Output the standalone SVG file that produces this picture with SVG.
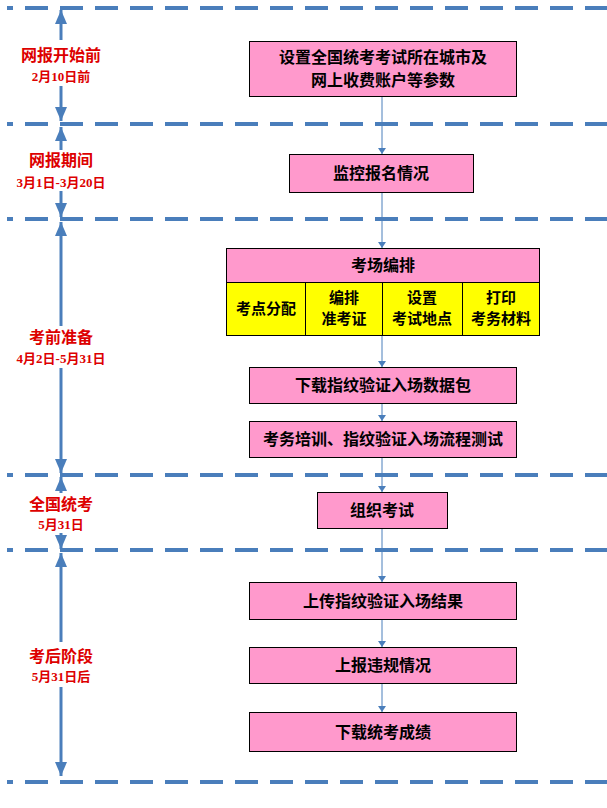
<svg xmlns="http://www.w3.org/2000/svg" width="607" height="808" viewBox="0 0 607 808">
<defs>
<style>
.dash{stroke:#4a7ebb;stroke-width:4;stroke-dasharray:23 12;stroke-dashoffset:17;fill:none}
.tl{stroke:#4a7ebb;stroke-width:3;fill:none}
.box{fill:#ff99cc;stroke:#000;stroke-width:1}
.cell{fill:#ffff00;stroke:#000;stroke-width:1}
.bt{font-family:"Noto Sans CJK SC","Liberation Sans",sans-serif;font-size:16px;font-weight:bold;fill:#000;text-anchor:middle}
.ct{font-size:15px}
.rt{font-family:"Liberation Serif","Noto Sans CJK SC",serif;font-weight:bold;fill:#dd0000;text-anchor:middle}
.r1{font-size:16px}
.r2{font-size:13px}
.con{stroke:#4a7ebb;stroke-width:1;fill:none;marker-end:url(#sa)}
</style>
<marker id="sa" viewBox="0 0 6 8" refX="6" refY="4" markerWidth="6" markerHeight="8" markerUnits="userSpaceOnUse" orient="auto">
<path d="M0,0L6,4L0,8z" fill="#4a7ebb"/>
</marker>
<marker id="ba" viewBox="0 0 14 12" refX="14" refY="6" markerWidth="14" markerHeight="12" markerUnits="userSpaceOnUse" orient="auto">
<path d="M0,0L14,6L0,12z" fill="#4a7ebb"/>
</marker>
</defs>
<rect width="607" height="808" fill="#fff"/>
<g id="separators">
<line class="dash" x1="7" y1="8" x2="607" y2="8"/>
<line class="dash" x1="7" y1="124" x2="607" y2="124"/>
<line class="dash" x1="7" y1="219" x2="607" y2="219"/>
<line class="dash" x1="7" y1="475" x2="607" y2="475"/>
<line class="dash" x1="7" y1="550" x2="607" y2="550"/>
<line class="dash" x1="7" y1="782" x2="607" y2="782"/>
</g>
<g id="timeline">
<line class="tl" x1="61" y1="40" x2="61" y2="10" marker-end="url(#ba)"/>
<line class="tl" x1="61" y1="86" x2="61" y2="121" marker-end="url(#ba)"/>
<line class="tl" x1="61" y1="150" x2="61" y2="127" marker-end="url(#ba)"/>
<line class="tl" x1="61" y1="191" x2="61" y2="217" marker-end="url(#ba)"/>
<line class="tl" x1="61" y1="326" x2="61" y2="222" marker-end="url(#ba)"/>
<line class="tl" x1="61" y1="368" x2="61" y2="473" marker-end="url(#ba)"/>
<line class="tl" x1="61" y1="493" x2="61" y2="477" marker-end="url(#ba)"/>
<line class="tl" x1="61" y1="533" x2="61" y2="549" marker-end="url(#ba)"/>
<line class="tl" x1="61" y1="642" x2="61" y2="553" marker-end="url(#ba)"/>
<line class="tl" x1="61" y1="687" x2="61" y2="776" marker-end="url(#ba)"/>
</g>
<g id="phases">
<text class="rt r1" x="61" y="61">网报开始前</text>
<text class="rt r2" x="61" y="81">2月10日前</text>
<text class="rt r1" x="61" y="166">网报期间</text>
<text class="rt r2" x="61" y="187">3月1日-3月20日</text>
<text class="rt r1" x="61" y="343">考前准备</text>
<text class="rt r2" x="61" y="363">4月2日-5月31日</text>
<text class="rt r1" x="61" y="510">全国统考</text>
<text class="rt r2" x="61" y="529">5月31日</text>
<text class="rt r1" x="61" y="662">考后阶段</text>
<text class="rt r2" x="61" y="681">5月31日后</text>
</g>
<g id="connectors">
<line class="con" x1="382" y1="96" x2="382" y2="154"/>
<line class="con" x1="382" y1="192" x2="382" y2="248"/>
<line class="con" x1="382" y1="335" x2="382" y2="367"/>
<line class="con" x1="382" y1="403" x2="382" y2="421"/>
<line class="con" x1="382" y1="457" x2="382" y2="492"/>
<line class="con" x1="382" y1="528" x2="382" y2="582"/>
<line class="con" x1="382" y1="619" x2="382" y2="647"/>
<line class="con" x1="382" y1="683" x2="382" y2="712"/>
</g>
<g id="n1">
<rect class="box" x="249.5" y="41.5" width="267" height="55"/>
<text class="bt" x="383" y="63">设置全国统考考试所在城市及</text>
<text class="bt" x="383" y="86">网上收费账户等参数</text>
</g>
<g id="n2">
<rect class="box" x="289.5" y="154.5" width="184" height="38"/>
<text class="bt" x="381" y="179">监控报名情况</text>
</g>
<g id="n3">
<rect class="box" x="226.5" y="248.5" width="313" height="34"/>
<text class="bt" x="383" y="271">考场编排</text>
<rect class="cell" x="226.5" y="282.5" width="79" height="53"/>
<rect class="cell" x="305.5" y="282.5" width="77" height="53"/>
<rect class="cell" x="382.5" y="282.5" width="80" height="53"/>
<rect class="cell" x="462.5" y="282.5" width="77" height="53"/>
<text class="bt ct" x="266" y="314">考点分配</text>
<text class="bt ct" x="344" y="303">编排</text>
<text class="bt ct" x="344" y="324">准考证</text>
<text class="bt ct" x="422" y="303">设置</text>
<text class="bt ct" x="422" y="324">考试地点</text>
<text class="bt ct" x="501" y="303">打印</text>
<text class="bt ct" x="501" y="324">考务材料</text>
</g>
<g id="n4">
<rect class="box" x="249.5" y="367.5" width="267" height="36"/>
<text class="bt" x="383" y="391">下载指纹验证入场数据包</text>
</g>
<g id="n5">
<rect class="box" x="249.5" y="421.5" width="267" height="36"/>
<text class="bt" x="383" y="445">考务培训、指纹验证入场流程测试</text>
</g>
<g id="n6">
<rect class="box" x="317.5" y="492.5" width="130" height="36"/>
<text class="bt" x="382" y="516">组织考试</text>
</g>
<g id="n7">
<rect class="box" x="249.5" y="582.5" width="267" height="37"/>
<text class="bt" x="383" y="607">上传指纹验证入场结果</text>
</g>
<g id="n8">
<rect class="box" x="249.5" y="647.5" width="267" height="36"/>
<text class="bt" x="383" y="671">上报违规情况</text>
</g>
<g id="n9">
<rect class="box" x="249.5" y="712.5" width="267" height="39"/>
<text class="bt" x="383" y="738">下载统考成绩</text>
</g>
</svg>
